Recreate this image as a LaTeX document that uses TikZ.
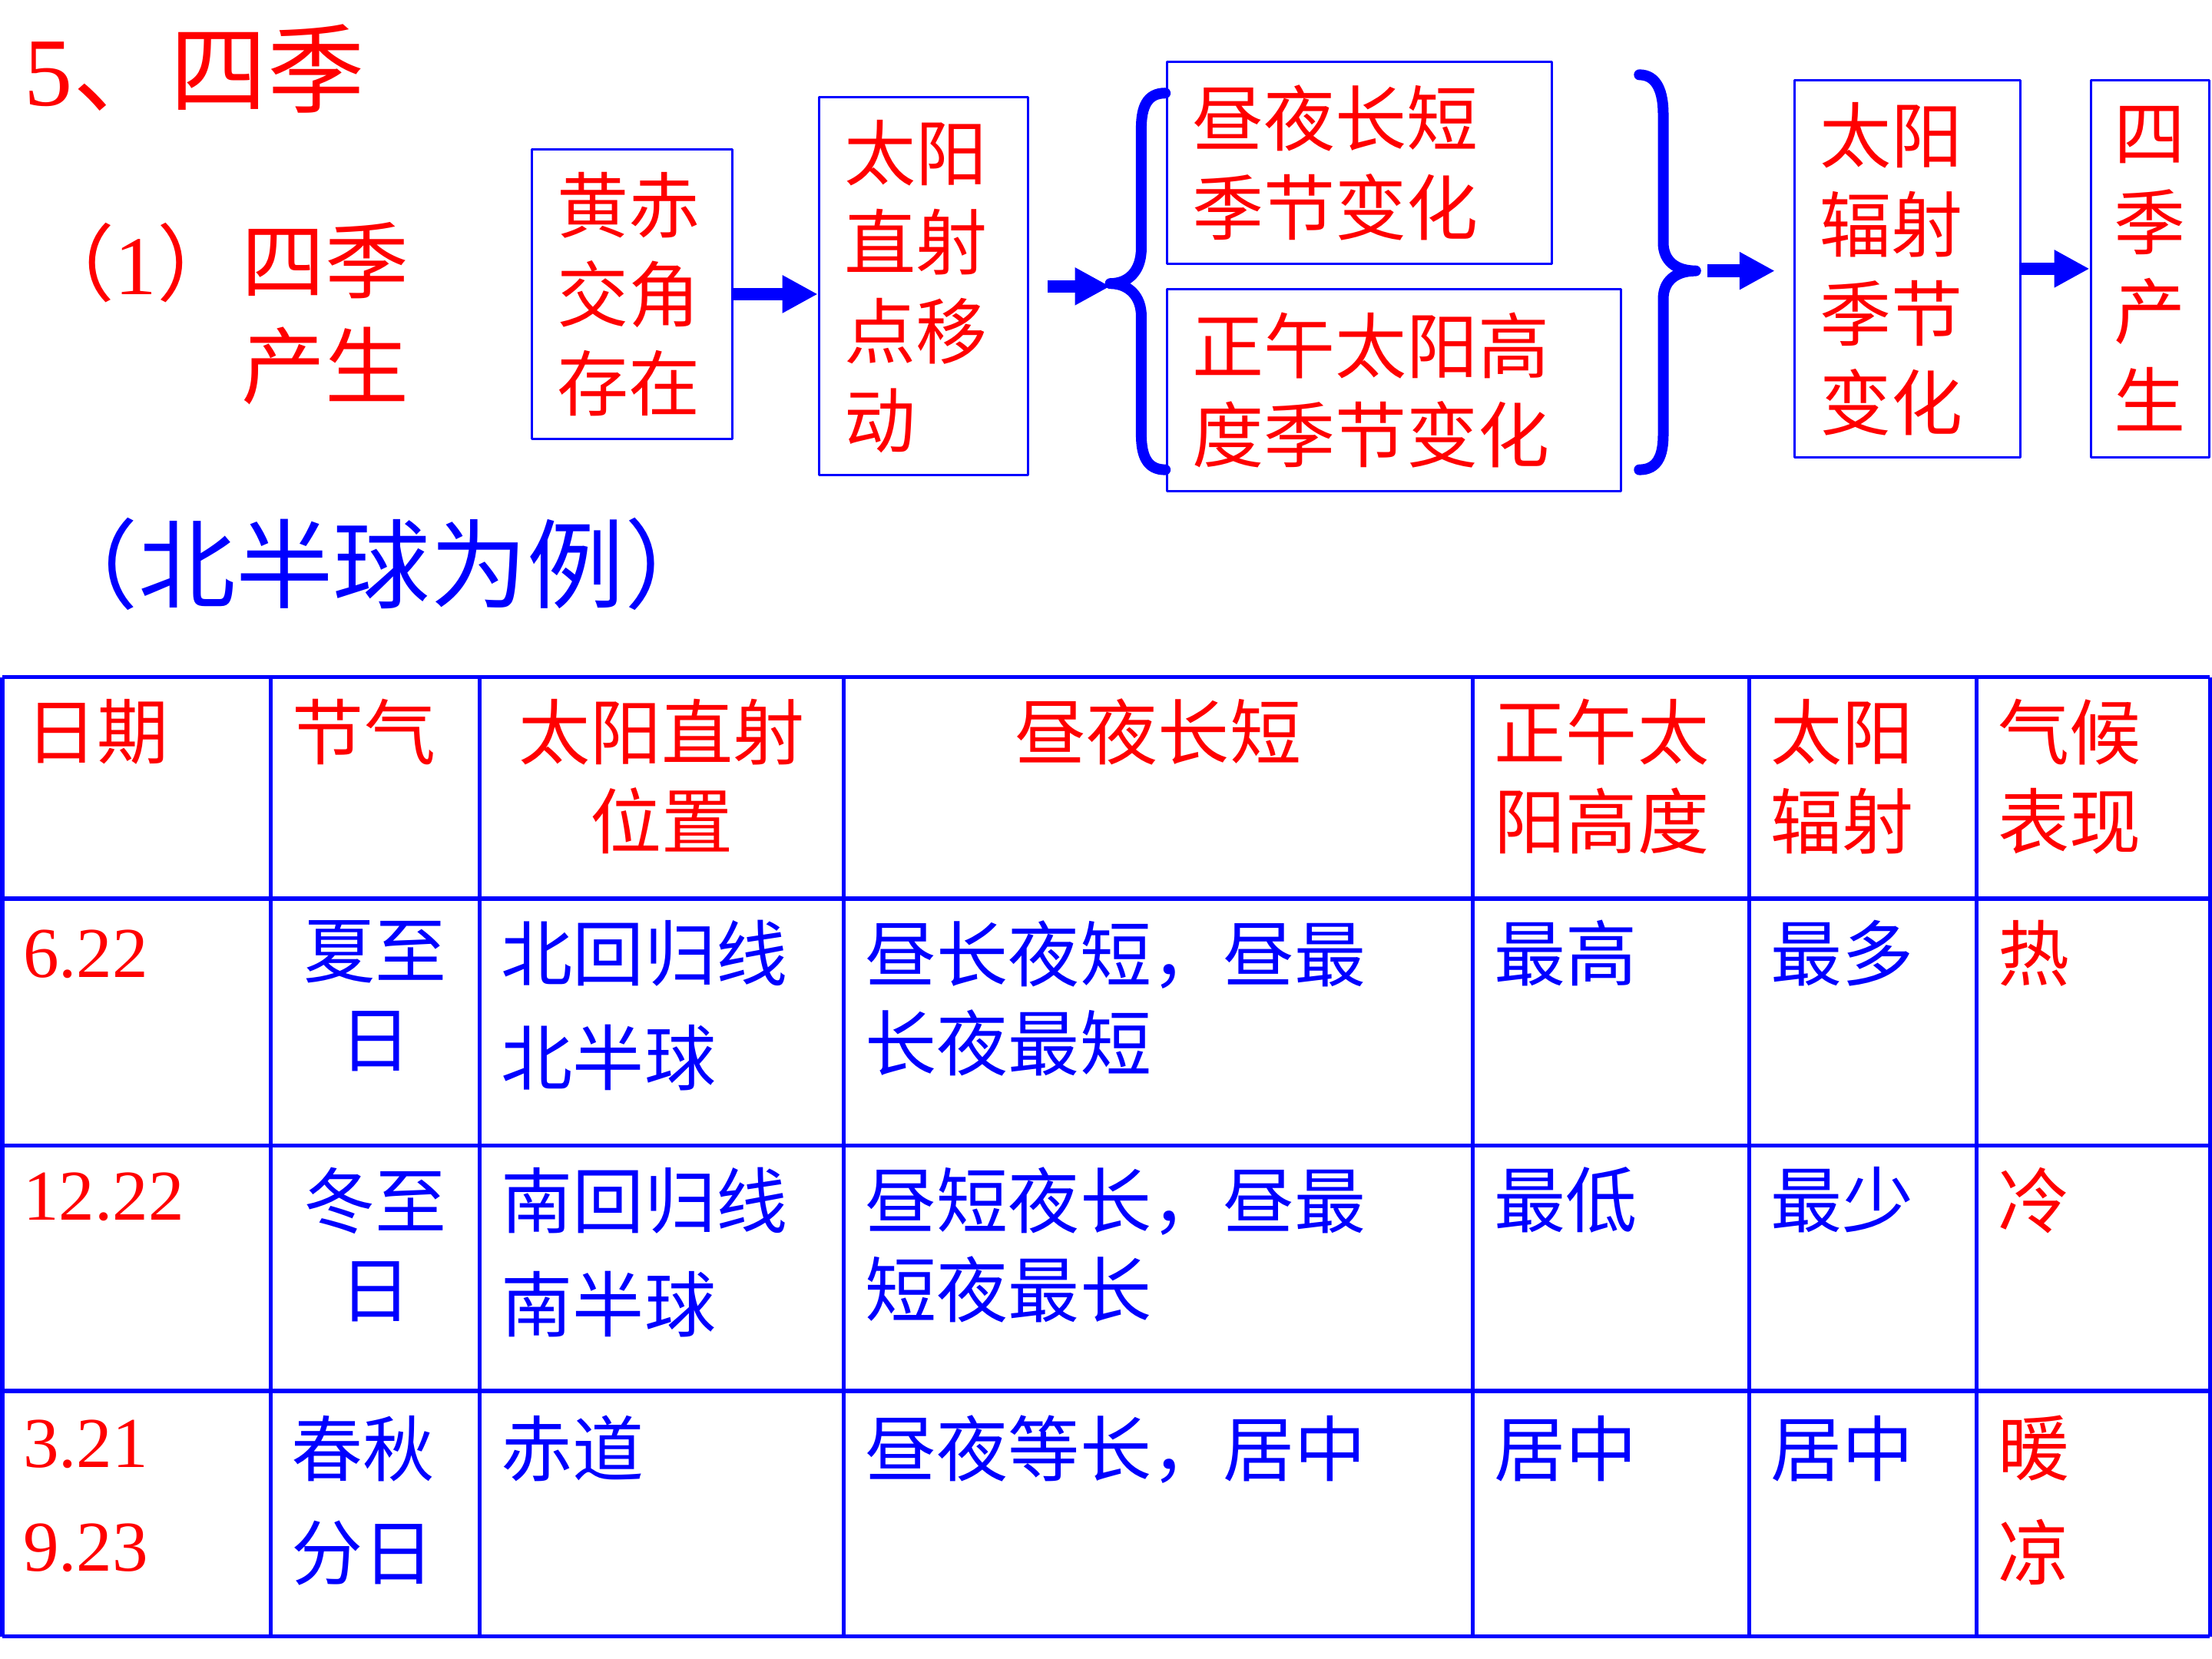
\documentclass[tikz,border=0pt]{standalone}
\usepackage{fontspec}
\setmainfont{Noto Sans CJK SC}
\newfontfamily\numf{Liberation Serif}
\usetikzlibrary{arrows.meta}
\definecolor{mauDo}{RGB}{255,0,0}
\definecolor{mauXanh}{RGB}{0,0,255}
\def\fa{\fontsize{26.5pt}{33pt}\selectfont}
\def\fb{\fontsize{26.5pt}{38.6pt}\selectfont}
\tikzset{
  hop/.style={draw=mauXanh, line width=0.3mm, inner xsep=3.3mm, inner ysep=0pt, align=left, text=mauDo, font=\fa},
  muiten/.style={draw=mauXanh, line width=1.65mm, line cap=butt, -{Triangle[length=4.6mm,width=4.6mm]}},
  ngoacnhon/.style={draw=mauXanh, line width=1.4mm, line cap=round},
  o/.style={anchor=north west, inner sep=0pt, align=left, font=\fa},
  oc/.style={anchor=north, inner sep=0pt, align=center, font=\fa},
  so/.style={anchor=north west, inner sep=0pt, align=left, text=mauDo, font=\fa\numf},
  ke/.style={draw=mauXanh, line width=0.55mm}
}
\begin{document}
\begin{tikzpicture}[line join=round, x=0.18367mm, y=-0.18367mm]
\useasboundingbox (0,0) rectangle (1568,1176);
% tiêu đề
\node[anchor=base west, inner sep=0pt, text=mauDo, font=\fontsize{36pt}{43pt}\selectfont] (tieude) at (17,75) {{\numf 5}、四季};
\node[anchor=base east, inner sep=0pt, text=mauDo, font=\fontsize{31pt}{39pt}\selectfont] (ngoac) at (171,209) {（{\numf 1}）};
\node[anchor=north west, inner sep=0pt, align=left, text=mauDo, font=\fontsize{31pt}{39pt}\selectfont] (sinhra) at (171,157) {四季\\产生};
\node[anchor=base west, inner sep=0pt, text=mauXanh, font=\fontsize{36pt}{43pt}\selectfont] (vidu) at (29,426) {（北半球为例）};
% sơ đồ
\node[hop, text width=19.48mm, minimum height=37.65mm] (hop1) at (448,208.5) {黄赤\\交角\\存在};
\node[hop, text width=20.58mm, minimum height=49.22mm] (hop2) at (654.5,203) {太阳\\直射\\点移\\动};
\node[hop, text width=43.54mm, minimum height=26.26mm] (hop3) at (963.5,115.5) {昼夜长短\\季节变化};
\node[hop, text width=52.54mm, minimum height=26.26mm] (hop4) at (988,276.5) {正午太阳高\\度季节变化};
\node[hop, text width=22.79mm, minimum height=49.04mm] (hop5) at (1352,190.5) {太阳\\辐射\\季节\\变化};
\node[hop, inner xsep=3mm, text width=9.43mm, minimum height=49.04mm] (hop6) at (1524,190.5) {四\\季\\产\\生};
\coordinate (dinhtrai) at (787,201);
\coordinate (dinhphai) at (1202,192);
\draw[ngoacnhon] (826,66) .. controls (813,66) and (809,76) .. (809,91) -- (809,176)
  .. controls (809,192) and (800,201) .. (dinhtrai) .. controls (800,201) and (809,210) .. (809,224)
  -- (809,308) .. controls (809,323) and (813,333) .. (826,333);
\draw[ngoacnhon] (1162,53) .. controls (1175,53) and (1179,66) .. (1179,81) -- (1179,172)
  .. controls (1179,185) and (1188,192) .. (dinhphai) .. controls (1188,192) and (1179,199) .. (1179,212)
  -- (1179,308) .. controls (1179,323) and (1175,333) .. (1162,333);
\draw[muiten] (hop1.east) -- (hop1.east -| hop2.west);
\draw[muiten] ([xshift=2.4mm]hop2.east) -- (hop2.east -| dinhtrai);
\draw[muiten] ([xshift=1.5mm]dinhphai) -- ([xshift=-2.4mm]hop5.west |- dinhphai);
\draw[muiten] (hop5.east) -- (hop6.west);
% bảng
\foreach \y in {480,637,812,986,1160} \draw[ke] (1.5,\y) -- (1566.5,\y);
\foreach \x in {1.5,192,340,598,1044,1240,1401,1566.5} \draw[ke] (\x,480) -- (\x,1160);
\node[o, text=mauDo] (ngay) at (18,495) {日期};
\node[o, text=mauDo] (tiet) at (207,495) {节气};
\node[oc, text=mauDo] (vitri) at (469,495) {太阳直射\\位置};
\node[oc, text=mauDo] (ngaydem) at (821,495) {昼夜长短};
\node[o, text=mauDo] (docao) at (1059,495) {正午太\\阳高度};
\node[o, text=mauDo] (bucxa) at (1255,495) {太阳\\辐射};
\node[o, text=mauDo] (khihau) at (1416,495) {气候\\表现};
% hàng 1
\node[so] (d1) at (16,659) {6.22};
\node[oc, text=mauXanh] (t1) at (266,652) {夏至\\日};
\node[o, text=mauXanh, font=\fb] (v1) at (355,652) {北回归线\\北半球};
\node[o, text=mauXanh] (n1) at (613,652) {昼长夜短，昼最\\长夜最短};
\node[o, text=mauXanh] (c1) at (1059,652) {最高};
\node[o, text=mauXanh] (b1) at (1255,652) {最多};
\node[o, text=mauDo] (k1) at (1416,652) {热};
% hàng 2
\node[so] (d2) at (16,831) {12.22};
\node[oc, text=mauXanh] (t2) at (266,827) {冬至\\日};
\node[o, text=mauXanh, font=\fb] (v2) at (355,827) {南回归线\\南半球};
\node[o, text=mauXanh] (n2) at (613,827) {昼短夜长，昼最\\短夜最长};
\node[o, text=mauXanh] (c2) at (1059,827) {最低};
\node[o, text=mauXanh] (b2) at (1255,827) {最少};
\node[o, text=mauDo] (k2) at (1416,827) {冷};
% hàng 3
\node[so, font=\fb\numf] (d3) at (16,1006) {3.21\\9.23};
\node[o, text=mauXanh, font=\fb] (t3) at (206,1003) {春秋\\分日};
\node[o, text=mauXanh] (v3) at (355,1003) {赤道};
\node[o, text=mauXanh] (n3) at (613,1003) {昼夜等长，居中};
\node[o, text=mauXanh] (c3) at (1059,1003) {居中};
\node[o, text=mauXanh] (b3) at (1255,1003) {居中};
\node[o, text=mauDo, font=\fb] (k3) at (1416,1003) {暖\\凉};
\end{tikzpicture}
\end{document}
